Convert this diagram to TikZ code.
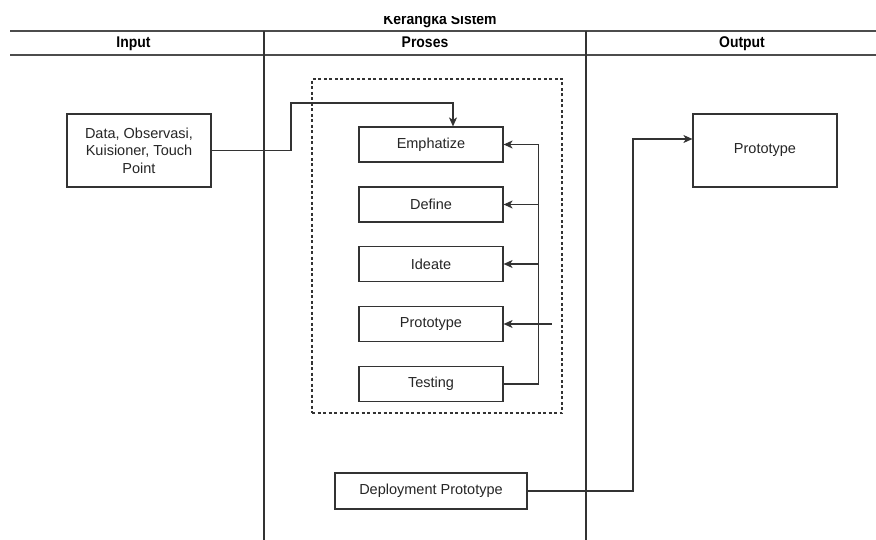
\documentclass[tikz,border=0pt]{standalone}
\usepackage{fontspec}
\setmainfont{Liberation Sans}
\newfontfamily\hdrfont[FakeStretch=0.9]{Liberation Sans}
\usetikzlibrary{arrows.meta}
\definecolor{linegray}{gray}{0.2}
\definecolor{rulegray}{gray}{0.3}
\definecolor{textgray}{gray}{0.15}
\begin{document}
\begin{tikzpicture}[x=1pt,y=-1pt,
  box/.style={draw=linegray, line width=1.2pt, minimum width=144pt, minimum height=35pt,
    inner sep=0pt, font=\fontsize{14.5}{17.5}\selectfont, text=textgray, align=center},
  conn/.style={draw=linegray, line width=1.2pt},
  arr/.style={conn, -{Stealth[length=9pt,width=8pt,inset=2.5pt]}},
  hdr/.style={font=\hdrfont\bfseries\fontsize{15.5}{17}\selectfont, text=black, inner sep=0pt, anchor=base},
  rulestyle/.style={draw=rulegray, line width=1.6pt},
  divider/.style={draw=linegray, line width=1.2pt},
  grpbox/.style={draw=linegray, line width=1.1pt, dash pattern=on 3pt off 2.5pt, inner sep=0pt}]
\useasboundingbox (0,0) rectangle (876,540);
\fill[white] (0,0) rectangle (876,540);

% header
\begin{scope}
  \clip (0,16.5) rectangle (876,30);
  \node[hdr] (title) at (440,24.5) {Kerangka Sistem};
\end{scope}
\draw[rulestyle] (10,31) coordinate (r1a) -- (876,31) coordinate (r1b);
\draw[rulestyle] (10,55) coordinate (r2a) -- (876,55) coordinate (r2b);
\draw[divider] (264,31) coordinate (d1a) -- (264,540) coordinate (d1b);
\draw[divider] (586,31) coordinate (d2a) -- (586,540) coordinate (d2b);
\node[hdr] (hin) at (133.5,48) {Input};
\node[hdr] (hpr) at (425,48) {Proses};
\node[hdr] (hout) at (742,48) {Output};

% group
\node[grpbox, minimum width=250pt, minimum height=334pt] (grp) at (437,246) {};

% nodes
\node[box, minimum height=73pt] (input) at (139,150.5) {Data, Observasi,\\Kuisioner, Touch\\Point};
\node[box] (emph) at (431,144.5) {Emphatize};
\node[box] (def) at (431,204.5) {Define};
\node[box] (ide) at (431,264) {Ideate};
\node[box] (proto) at (431,324) {Prototype};
\node[box] (test) at (431,384) {Testing};
\node[box, minimum width=192pt, minimum height=36pt] (deploy) at (431,491) {Deployment Prototype};
\node[box, minimum height=73pt] (out) at (765,150.5) {Prototype};

% connectors
\coordinate (inbend) at (291,103);
\draw[arr] (input.east) -| (inbend) -| ([xshift=22pt]emph.north);
\draw[arr] (test.east) -| ([xshift=35pt]emph.east) -- (emph.east);
\draw[arr] ([xshift=35pt]def.east) -- (def.east);
\draw[arr] ([xshift=35pt]ide.east) -- (ide.east);
\draw[arr] ([xshift=48pt]proto.east) -- (proto.east);
\coordinate (outbend) at (633,139);
\draw[arr] (deploy.east) -| (outbend) -- ([yshift=11.5pt]out.west);
\end{tikzpicture}
\end{document}
